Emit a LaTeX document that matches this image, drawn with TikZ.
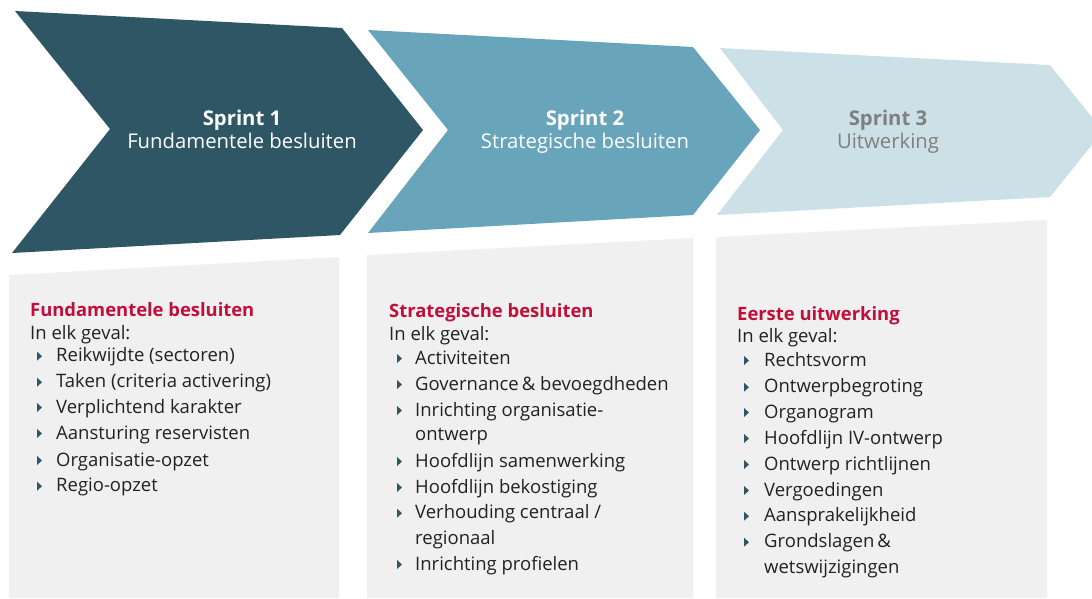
\documentclass[tikz,border=0pt]{standalone}
\usepackage{fontspec}
\setmainfont{Open Sans}
\usetikzlibrary{positioning}

\definecolor{sprintdark}{HTML}{2E5664}
\definecolor{sprintmid}{HTML}{68A5BA}
\definecolor{sprintlight}{HTML}{CCE0E7}
\definecolor{sprintgrey}{HTML}{7F7F7F}
\definecolor{panelgrey}{HTML}{F0F0F0}
\definecolor{headred}{HTML}{C10F3A}
\definecolor{bodytext}{HTML}{222222}

\begin{document}
\begin{tikzpicture}[x=1pt,y=-1pt,
    sprintline/.style={anchor=base, inner sep=0pt, font=\fontsize{20.3}{24}\selectfont},
    panelhead/.style={anchor=base west, inner sep=0pt, text=headred, font=\fontsize{18.4}{21}\selectfont\bfseries},
    paneltext/.style={anchor=base west, inner sep=0pt, text=bodytext, font=\fontsize{18.5}{21}\selectfont},
    bulletmark/.style={fill=sprintdark}]
        \useasboundingbox (0,0) rectangle (1092,598);
        \clip (0,0) rectangle (1092,598);

        % chevrons
        \coordinate (A1) at (15,11);
        \coordinate (A2) at (342,28);
        \coordinate (A3) at (423,130);
        \coordinate (A4) at (340,235);
        \coordinate (A5) at (12,253);
        \coordinate (A6) at (110,129);
        \coordinate (B1) at (368,30);
        \coordinate (B2) at (693,47);
        \coordinate (B3) at (760,130);
        \coordinate (B4) at (693,215);
        \coordinate (B5) at (368,233);
        \coordinate (B6) at (448,130);
        \coordinate (C1) at (720,48);
        \coordinate (C2) at (1050,65);
        \coordinate (C3) at (1103,131);
        \coordinate (C4) at (1050,197);
        \coordinate (C5) at (717,215);
        \coordinate (C6) at (783,130);

        \fill[sprintdark] (A1) -- (A2) -- (A3) -- (A4) -- (A5) -- (A6) -- cycle;
        \fill[sprintmid] (B1) -- (B2) -- (B3) -- (B4) -- (B5) -- (B6) -- cycle;
        \fill[sprintlight] (C1) -- (C2) -- (C3) -- (C4) -- (C5) -- (C6) -- cycle;

        % grey panels
        \fill[panelgrey] (9,275) -- (339,257) -- (339,598) -- (9,598) -- cycle;
        \fill[panelgrey] (367,255) -- (693,238) -- (693,598) -- (367,598) -- cycle;
        \fill[panelgrey] (716,237) -- (1047,220) -- (1047,598) -- (716,598) -- cycle;

        \node[sprintline, text=white] (s1a) at (242,125) {\bfseries Sprint 1};
        \node[sprintline, text=white] (s1b) at (242,148) {Fundamentele besluiten};
        \node[sprintline, text=white] (s2a) at (585,125) {\bfseries Sprint 2};
        \node[sprintline, text=white] (s2b) at (585,148) {Strategische besluiten};
        \node[sprintline, text=sprintgrey] (s3a) at (888,125) {\bfseries Sprint 3};
        \node[sprintline, text=sprintgrey] (s3b) at (888,148) {Uitwerking};

        % panel 1
        \node[panelhead] (h1) at (30,316.7) {Fundamentele besluiten};
        \node[paneltext] (g1) at (30,339) {In elk geval:};
        \foreach \y/\txt [count=\i] in {361.7/Reikwijdte (sectoren), 387.7/Taken (criteria activering),
                413/Verplichtend karakter, 439/Aansturing reservisten,
                466/Organisatie-opzet, 491.7/Regio-opzet} {
            \fill[bulletmark] (37,\y-10) -- ++(5,4.5) -- ++(-5,4.5) -- cycle;
            \node[paneltext] (p1-\i) at (56,\y) {\txt};
        }

        % panel 2
        \node[panelhead] (h2) at (389,317) {Strategische besluiten};
        \node[paneltext] (g2) at (389,340.7) {In elk geval:};
        \foreach \y/\txt [count=\i] in {364/Activiteiten, 390/{Governance\,\& bevoegdheden},
                416/Inrichting organisatie-, 467/Hoofdlijn samenwerking,
                493/Hoofdlijn bekostiging, 518.7/{Verhouding centraal /},
                570/Inrichting profielen} {
            \fill[bulletmark] (397,\y-10) -- ++(5,4.5) -- ++(-5,4.5) -- cycle;
            \node[paneltext] (p2-\i) at (415,\y) {\txt};
        }
        \node[paneltext] (p2-3b) at (415,440.7) {ontwerp};
        \node[paneltext] (p2-6b) at (415,544) {regionaal};

        % panel 3
        \node[panelhead] (h3) at (737,320) {Eerste uitwerking};
        \node[paneltext] (g3) at (737,342) {In elk geval:};
        \foreach \y/\txt [count=\i] in {366/Rechtsvorm, 392.7/Ontwerpbegroting,
                418/Organogram, 444/Hoofdlijn IV-ontwerp,
                470/Ontwerp richtlijnen, 496/Vergoedingen,
                521.7/Aansprakelijkheid, 547.7/{Grondslagen\,\&}} {
            \fill[bulletmark] (744,\y-10) -- ++(5,4.5) -- ++(-5,4.5) -- cycle;
            \node[paneltext] (p3-\i) at (764,\y) {\txt};
        }
        \node[paneltext] (p3-8b) at (764,573) {wetswijzigingen};

    \end{tikzpicture}
\end{document}
